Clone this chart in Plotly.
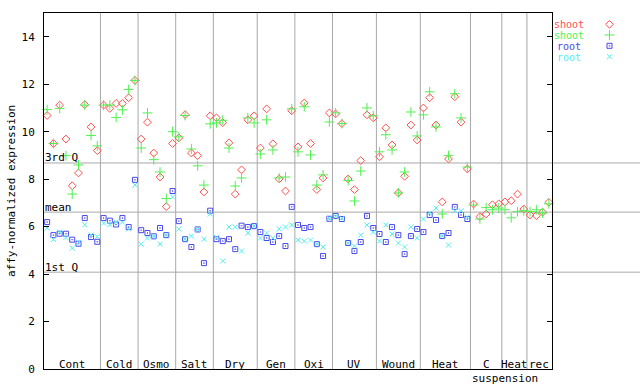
import plotly.graph_objects as go

# ---- data -------------------------------------------------------------
groups = ["Cont", "Cold", "Osmo", "Salt", "Dry", "Gen", "Oxi", "UV",
          "Wound", "Heat", "C", "Heat", "rec"]
group_sizes = [9, 6, 6, 6, 7, 6, 6, 7, 7, 8, 5, 4, 4]

shoot_red = [10.68, 9.50, 11.12, 9.69, 7.72, 8.26, 11.14, 10.20, 9.20,
             11.12, 10.98, 11.19, 11.19, 11.43, 12.16,
             9.69, 10.40, 9.10, 8.09, 6.84, 9.50,
             9.74, 10.72, 9.10, 8.99, 7.46, 10.67,
             10.58, 10.38, 9.53, 7.37, 8.39, 10.50, 10.67,
             9.31, 10.96, 9.49, 8.01, 7.50, 10.88,
             9.36, 11.21, 9.50, 7.56, 8.05, 10.79,
             10.75, 10.34, 8.01, 7.56, 8.78, 10.71, 10.58,
             8.94, 10.16, 9.44, 7.42, 8.12, 10.28, 9.65,
             11.00, 11.43, 10.28, 7.04, 8.85, 11.47, 10.40, 8.43,
             6.95, 6.42, 6.53, 6.92, 6.96,
             7.04, 7.09, 7.37, 6.74,
             6.49, 6.46, 6.61, 7.02]

shoot_green = [10.93, 9.50, 10.98, 8.99, 7.37, 8.60, 11.12, 9.84, 9.40,
               11.12, 11.12, 10.60, 10.92, 11.78, 12.16,
               9.31, 10.79, 8.82, 8.30, 7.18, 10.00,
               9.78, 10.68, 9.27, 8.56, 7.75, 10.33,
               10.37, 10.48, 9.31, 7.71, 8.05, 10.58, 10.37,
               9.06, 10.50, 9.23, 8.05, 8.09, 10.96,
               9.15, 11.05, 9.02, 7.75, 8.18, 10.41,
               10.79, 10.34, 7.94, 7.08, 8.34, 11.00, 10.67,
               9.15, 9.87, 9.23, 7.42, 8.30, 10.83, 9.82,
               10.71, 11.68, 10.20, 6.53, 8.99, 11.60, 10.58, 8.51,
               6.91, 6.32, 6.80, 6.71, 6.78,
               6.71, 6.37, 6.63, 6.67,
               6.63, 6.71, 6.57, 6.96]

root_blue = [6.19, 5.64, 5.70, 5.70, 5.45, 5.28, 6.36, 5.56, 5.36,
             6.36, 6.25, 6.09, 6.36, 5.98, 7.97,
             5.85, 5.73, 5.59, 5.94, 5.64, 7.50,
             6.23, 5.47, 5.14, 5.88, 4.46, 6.67,
             5.47, 5.39, 5.47, 5.05, 6.04, 5.98, 6.02,
             5.77, 5.52, 5.35, 5.60, 5.18, 6.83,
             6.07, 5.94, 5.98, 5.26, 4.76, 6.33,
             6.45, 6.32, 5.31, 4.97, 5.35, 6.45, 5.94,
             5.69, 5.35, 5.98, 5.64, 4.84, 5.60, 5.90,
             5.77, 6.49, 6.28, 5.60, 5.73, 6.83, 6.49, 6.32]

root_cyan = [5.94, 5.46, 5.77, 5.54, 5.09, 5.33, 6.08, 5.65, 5.58,
             6.15, 6.08, 6.19, 6.19, 5.90, 7.75,
             5.26, 5.52, 5.59, 5.26, 5.64, 7.25,
             5.90, 5.47, 5.60, 5.88, 5.47, 6.53,
             5.55, 4.55, 5.98, 5.98, 4.97, 5.73, 6.02,
             5.52, 5.73, 5.52, 5.90, 5.98, 6.07,
             5.43, 5.39, 5.43, 5.26, 5.14, 6.35,
             6.43, 6.35, 5.31, 5.18, 5.64, 6.07, 5.77,
             5.39, 6.07, 5.69, 5.31, 5.14, 5.98, 5.52,
             6.32, 6.57, 6.78, 5.60, 5.22, 6.66, 6.66, 6.40]

quartile_names = ["3rd Q", "mean", "1st Q"]
quartile_values = [8.68, 6.61, 4.08]

series_names = ["shoot", "shoot", "root", "root"]

# ---- styling ----------------------------------------------------------
RED = "#ff5050"
GREEN = "#50f050"
BLUE = "#4848ee"
CYAN = "#50f0f0"
GRID = "#a8a8a8"
FONT = "DejaVu Sans Mono"

n = sum(group_sizes)
x = list(range(n))


def pad(vals):
    return list(vals) + [None] * (n - len(vals))


fig = go.Figure()
styles = [
    (shoot_red, RED, "diamond-open", 6),
    (shoot_green, GREEN, "cross-thin-open", 7),
    (pad(root_blue), BLUE, "square-open-dot", 5),
    (pad(root_cyan), CYAN, "x-thin-open", 5),
]
for (vals, col, sym, sz), name in zip(styles, series_names):
    fig.add_trace(go.Scatter(
        x=x, y=vals, mode="markers", name=name, showlegend=False,
        marker=dict(symbol=sym, size=sz, color=col, line=dict(width=1, color=col)),
        cliponaxis=False,
    ))

# legend markers on a small side axis (pixel units)
legend_rows = [24.3, 35.0, 45.8, 56.7]
for (vals, col, sym, sz), name, ry in zip(styles, series_names, legend_rows):
    fig.add_trace(go.Scatter(
        x=[609.5], y=[ry], xaxis="x2", yaxis="y2", mode="markers",
        showlegend=False, hoverinfo="skip",
        marker=dict(symbol=sym, size=sz, color=col, line=dict(width=1, color=col)),
        cliponaxis=False,
    ))

shapes = []
annotations = []

# group separators & labels
start = 0
for gi, (g, s) in enumerate(zip(groups, group_sizes)):
    end = start + s
    if gi < len(groups) - 1:
        shapes.append(dict(type="line", xref="x", yref="paper",
                           x0=end - 0.5, x1=end - 0.5, y0=0, y1=1,
                           line=dict(color=GRID, width=1), layer="below"))
    center = (start + end - 1) / 2
    annotations.append(dict(x=center, y=0, xref="x", yref="paper",
                            text=g, showarrow=False, yanchor="middle", yshift=5,
                            font=dict(family=FONT, size=11, color="black")))
    start = end

# second line of the "C suspension" label
annotations.append(dict(x=73.0, y=0, xref="x", yref="paper",
                        text="suspension", showarrow=False, yanchor="middle",
                        yshift=-9, font=dict(family=FONT, size=11, color="black")))

# quartile lines and labels
for qn, qv in zip(quartile_names, quartile_values):
    shapes.append(dict(type="line", xref="paper", yref="y", x0=0, x1=1,
                       y0=qv, y1=qv, line=dict(color=GRID, width=1), layer="below"))
    annotations.append(dict(x=0, y=qv, xref="paper", yref="y", text=qn,
                            showarrow=False, xanchor="left", yanchor="middle",
                            yshift=5, xshift=-1,
                            font=dict(family=FONT, size=11, color="black")))

# legend text
leg_colors = [RED, GREEN, BLUE, CYAN]
for name, col, ry in zip(series_names, leg_colors, legend_rows):
    annotations.append(dict(x=569, y=ry, xref="x2", yref="y2", text=name,
                            showarrow=False, xanchor="center", yanchor="middle",
                            height=10, borderpad=0,
                            font=dict(family=FONT, size=10, color=col)))

# y-axis title
annotations.append(dict(x=-33 / 596, y=0.5, xref="paper", yref="paper",
                        text="affy-normalized expression", textangle=-90,
                        showarrow=False, xanchor="center", yanchor="middle",
                        font=dict(family=FONT, size=11, color="black")))

main_right = 508 / 596
fig.update_layout(
    width=640, height=384,
    margin=dict(l=44, r=0, t=13, b=15),
    paper_bgcolor="white", plot_bgcolor="white",
    showlegend=False,
    font=dict(family=FONT, size=11, color="black"),
    xaxis=dict(domain=[0, main_right], range=[-0.5, n - 0.5],
               showgrid=False, zeroline=False, showticklabels=False, ticks="",
               showline=True, linecolor="black", linewidth=1, mirror=True),
    yaxis=dict(range=[0, 15], tickvals=[0, 2, 4, 6, 8, 10, 12, 14],
               showgrid=False, zeroline=False,
               ticks="inside", ticklen=5, tickcolor="black", tickwidth=1,
               showline=True, linecolor="black", linewidth=1, mirror="ticks",
               ticklabelstandoff=6,
               tickfont=dict(family=FONT, size=11, color="black")),
    xaxis2=dict(domain=[0.86, 1], range=[44 + 596 * 0.86, 640], visible=False,
                anchor="y2"),
    yaxis2=dict(domain=[0, 1], range=[369, 13], visible=False, anchor="x2"),
    shapes=shapes,
    annotations=annotations,
)

fig.write_html("out.html", config={"displayModeBar": False},
               post_script="document.body.style.margin='0';document.body.style.overflow='hidden';")
